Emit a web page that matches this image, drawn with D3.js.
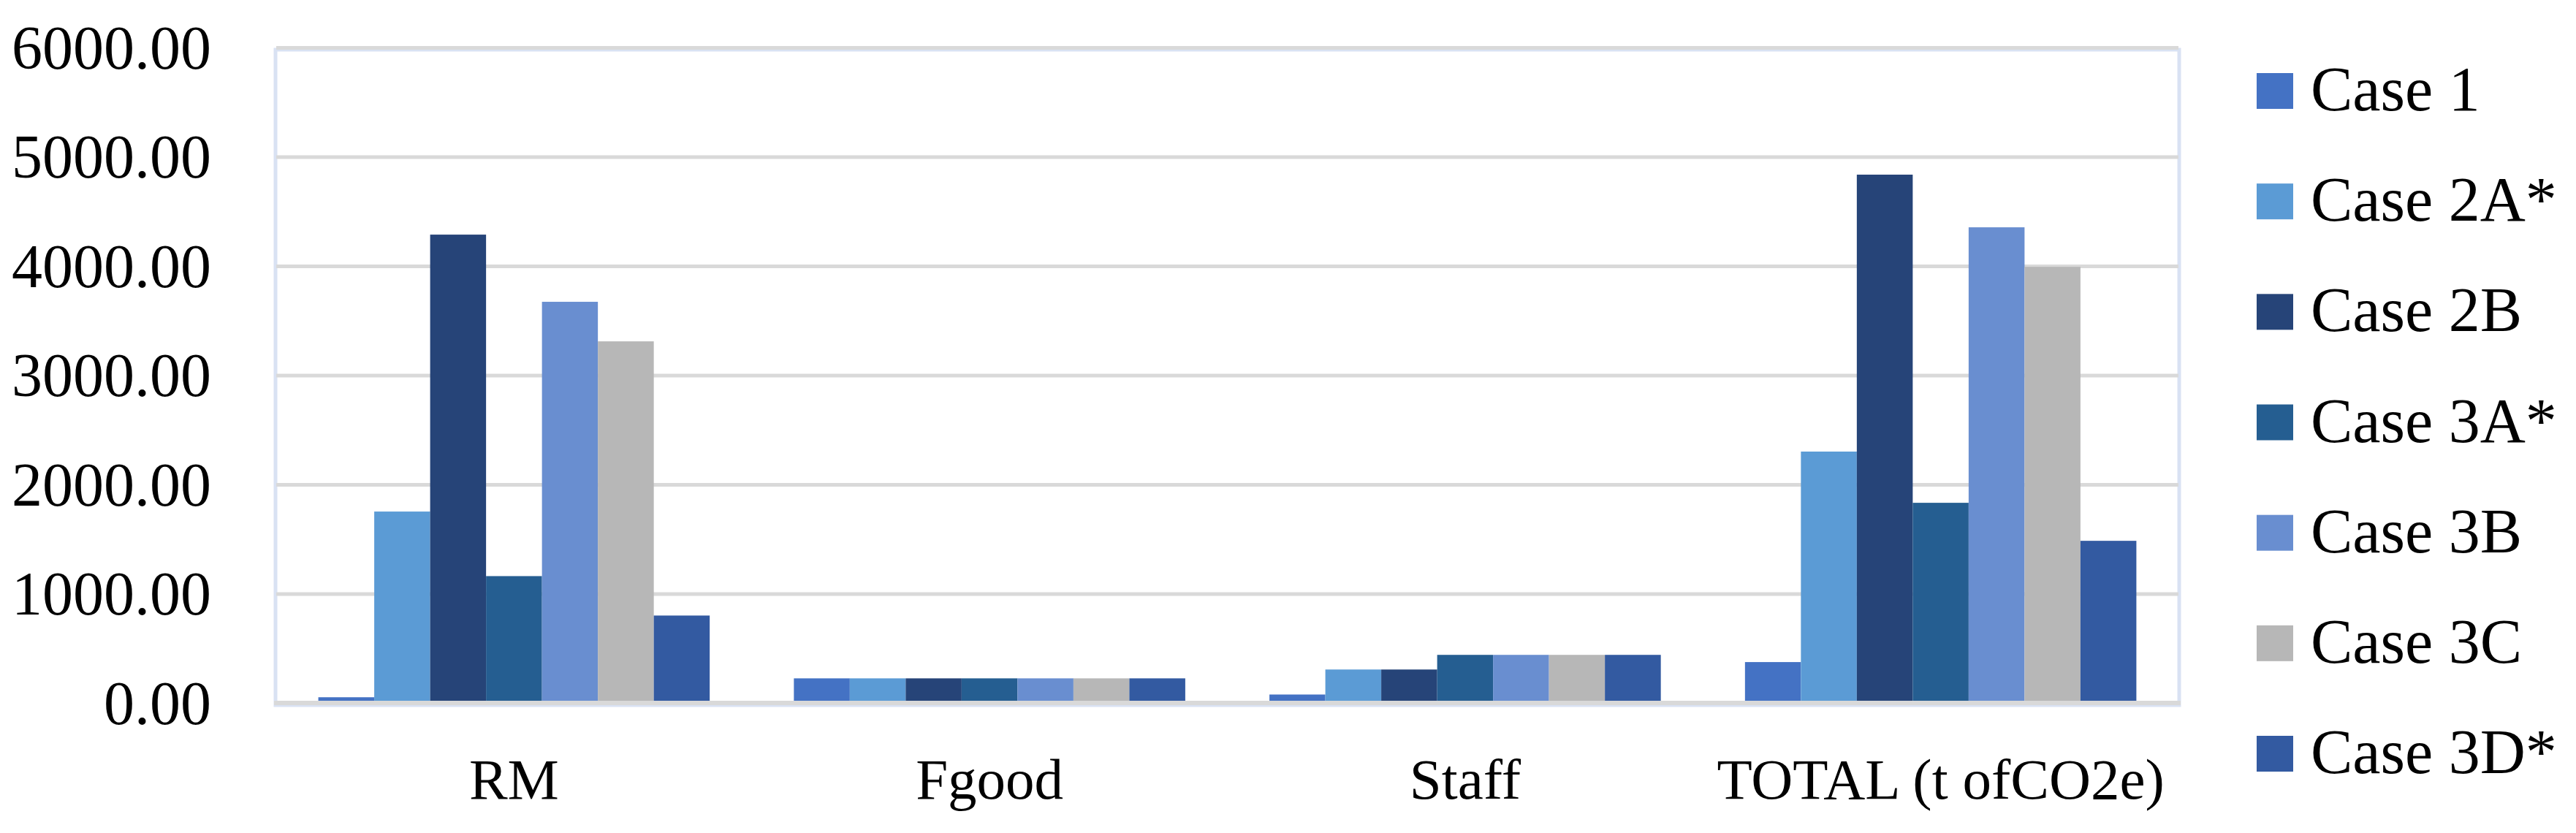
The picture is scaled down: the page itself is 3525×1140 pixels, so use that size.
<!DOCTYPE html>
<html>
<head>
<meta charset="utf-8">
<script src="https://cdn.jsdelivr.net/npm/d3@7"></script>
<style>
  html, body { margin: 0; padding: 0; background: #ffffff; }
  svg { display: block; }
  text { font-family: "Palatino Linotype", "Book Antiqua", Palatino, "Liberation Serif", "DejaVu Serif", serif; fill: #000; }
</style>
</head>
<body>
<svg id="chart" width="3525" height="1140"></svg>
<script>
// ---- Data ----
const categories = ["RM", "Fgood", "Staff", "TOTAL (t ofCO2e)"];
const seriesNames = ["Case 1", "Case 2A*", "Case 2B", "Case 3A*", "Case 3B", "Case 3C", "Case 3D*"];
const case1  = [52, 225, 77, 374];
const case2A = [1752, 225, 306, 2301];
const case2B = [4287, 225, 306, 4836];
const case3A = [1161, 225, 440, 1832];
const case3B = [3672, 225, 440, 4354];
const case3C = [3310, 225, 440, 3992];
const case3D = [800, 225, 440, 1484];
const seriesColors = ["#4472C4", "#5B9BD5", "#264478", "#255E91", "#698ED0", "#B7B7B7", "#335AA1"];
const yTicks = [0, 1000, 2000, 3000, 4000, 5000, 6000];

const seriesValues = [case1, case2A, case2B, case3A, case3B, case3C, case3D];

// ---- Layout ----
const svg = d3.select("#chart");
const plot = { left: 378, right: 2981, top: 65, bottom: 962 };

const x0 = d3.scaleBand().domain(categories).range([plot.left, plot.right])
  .paddingInner(0.177).paddingOuter(0.0885);
const x1 = d3.scaleBand().domain(seriesNames).range([0, x0.bandwidth()]).padding(0);
const y = d3.scaleLinear().domain([0, 6000]).range([plot.bottom, plot.top]);

// plot area border (light blue)
svg.append("rect")
  .attr("x", plot.left - 1).attr("y", plot.top + 3)
  .attr("width", plot.right - plot.left + 2).attr("height", plot.bottom - plot.top)
  .attr("fill", "none").attr("stroke", "#D9E2F3").attr("stroke-width", 5);

// gridlines
const grid = svg.append("g").attr("transform", `translate(${plot.left},0)`)
  .call(d3.axisLeft(y).tickValues(yTicks).tickSize(-(plot.right - plot.left)).tickFormat(""));
grid.select(".domain").remove();
grid.selectAll("line").attr("stroke", "#D9D9D9").attr("stroke-width", 5);

// bars
const groups = svg.append("g").selectAll("g")
  .data(categories).join("g")
  .attr("transform", d => `translate(${x0(d)},0)`);

groups.selectAll("rect")
  .data((c, ci) => seriesNames.map((s, si) => ({ s, si, v: seriesValues[si][ci] })))
  .join("rect")
  .attr("x", d => x1(d.s))
  .attr("width", x1.bandwidth())
  .attr("y", d => y(d.v))
  .attr("height", d => y(0) - y(d.v) - 2)
  .attr("fill", d => seriesColors[d.si]);

// zero axis line
svg.append("line")
  .attr("x1", plot.left - 3).attr("x2", plot.right + 3)
  .attr("y1", y(0)).attr("y2", y(0))
  .attr("stroke", "#D9D9D9").attr("stroke-width", 6);

// y-axis labels
const yAxis = svg.append("g").attr("transform", `translate(289,0)`)
  .call(d3.axisLeft(y).tickValues(yTicks).tickSize(0).tickPadding(0).tickFormat(d3.format(".2f")));
yAxis.select(".domain").remove();
yAxis.selectAll("text")
  .attr("x", 0).attr("dy", null).attr("y", 28)
  .attr("text-anchor", "end")
  .style("font-size", "84px")
  .style("font-family", "\"Palatino Linotype\", \"Book Antiqua\", Palatino, \"Liberation Serif\", serif")
  .attr("fill", "#000");

// x-axis labels
const xAxis = svg.append("g").attr("transform", `translate(0,1093)`)
  .call(d3.axisBottom(x0).tickSize(0).tickPadding(0));
xAxis.select(".domain").remove();
xAxis.selectAll("text")
  .attr("y", 0).attr("dy", null)
  .style("font-size", "79px")
  .style("font-family", "\"Palatino Linotype\", \"Book Antiqua\", Palatino, \"Liberation Serif\", serif")
  .attr("fill", "#000");

// legend
const legendY = d3.scalePoint().domain(seriesNames).range([125, 1032]);
const legend = svg.append("g").selectAll("g")
  .data(seriesNames).join("g")
  .attr("transform", d => `translate(3088,${legendY(d)})`);
legend.append("rect")
  .attr("x", 0).attr("y", -25).attr("width", 50).attr("height", 49)
  .attr("fill", (d, i) => seriesColors[i]);
legend.append("text")
  .attr("x", 74).attr("y", 26)
  .style("font-size", "86px")
  .text(d => d);
</script>
</body>
</html>
